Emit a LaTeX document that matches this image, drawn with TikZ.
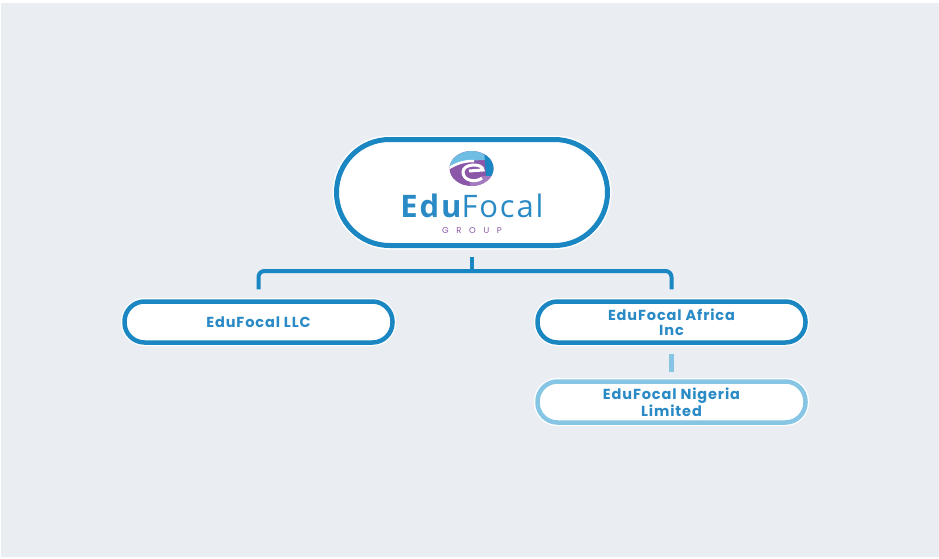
\documentclass[tikz,border=0pt]{standalone}
\usepackage{fontspec}
\setmainfont{Poppins}[LetterSpace=6]
\newfontfamily\brandfont{Open Sans}[LetterSpace=6]
\newfontfamily\tagfont{Poppins}[LetterSpace=90]
\usepackage{tikz}
\usetikzlibrary{shapes, arrows, positioning}
\definecolor{canvas}{HTML}{EAEDF2}
\definecolor{edublue}{HTML}{1A87C2}
\definecolor{edusky}{HTML}{86C5E3}
\definecolor{edutext}{HTML}{2A8AC6}
\definecolor{eduplum}{HTML}{8B57A8}
\definecolor{edulilac}{HTML}{A47BC0}
\definecolor{eduteal}{HTML}{6FBDE2}
\tikzstyle{group}   = [rectangle, draw=edublue, line width=5pt, fill=white, rounded corners=53pt, minimum width=271pt, minimum height=106pt, preaction={draw=white, line width=8pt}]
\tikzstyle{unit}    = [rectangle, draw=edublue, line width=4.5pt, fill=white, rounded corners=20pt, minimum width=268pt, minimum height=41pt, text=edutext, align=center, font=\bfseries\fontsize{14.5}{15}\selectfont, preaction={draw=white, line width=7pt}]
\tikzstyle{subunit} = [unit, draw=edusky]
\tikzstyle{brand}   = [text=edutext, inner sep=0pt, font=\brandfont\fontsize{31}{31}\selectfont]
\tikzstyle{tag}     = [text=eduplum, inner sep=0pt, font=\tagfont\fontsize{8.5}{8.5}\selectfont]
\tikzstyle{link}    = [draw=edublue, line width=4pt]
\tikzstyle{sublink} = [draw=edusky, line width=5pt]

\begin{document}
\begin{tikzpicture}[x=1pt, y=-1pt, node distance=413pt]
    \fill[white] (0,0) rectangle (939,559);
    \fill[canvas] (1,3) rectangle (939,557);
    \node[group](group) at (472,192.5){};
    % logo
    \begin{scope}
        \clip (471.5,168.5) ellipse [x radius=22, y radius=17.5];
        \fill[eduplum] (446,149) rectangle (496,189);
        \fill[eduteal] (446,149) -- (496,149) -- (496,161) .. controls (480,159) and (462,160) .. (446,169) -- cycle;
        \fill[edublue] (484,149) -- (496,149) -- (496,178) -- (486,176) -- cycle;
        \fill[edulilac] (470,176) rectangle (496,189);
        \draw[white, line width=2.5pt] (446,170) .. controls (458,162) and (466,161) .. (474,161);
        \fill[eduplum] (482,178) .. controls (476,183) and (463,181) .. (463,172) .. controls (463,163) and (483,163) .. (483,170) -- cycle;
        \draw[white, line width=3pt] (482,178) .. controls (476,183) and (463,181) .. (463,172) .. controls (463,163) and (483,163) .. (483,170) -- (469,171);
    \end{scope}
    \node[brand, anchor=base](brand) at (472,217){{\bfseries Edu}Focal};
    \node[tag, anchor=base](tag) at (472,233){GROUP};
    \node[unit](llc) at (258.5,322){EduFocal LLC};
    \node[unit, right of=llc](africa){EduFocal Africa\\Inc};
    \node[subunit, below of=africa, node distance=80pt](nigeria){EduFocal Nigeria\\Limited};
    \coordinate (bar) at (472,271);
    \path[link, shorten <=9pt](group.south) -- (bar);
    \path[link, rounded corners=6pt, shorten >=10pt](bar) -| (llc.north);
    \path[link, rounded corners=6pt, shorten >=10pt](bar) -| (africa.north);
    \path[sublink, shorten <=9pt, shorten >=7pt](africa.south) -- (nigeria.north);
\end{tikzpicture}
\end{document}
